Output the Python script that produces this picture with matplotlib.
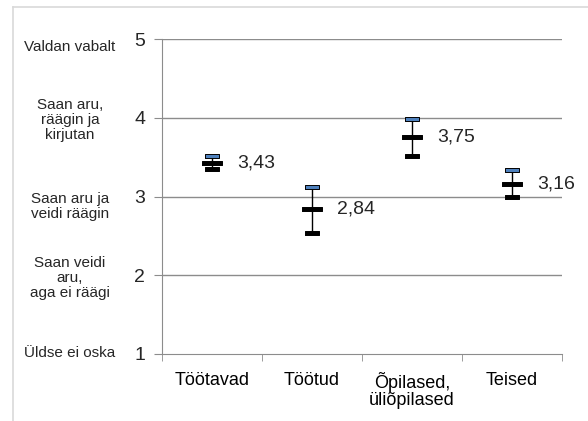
import matplotlib
matplotlib.use("Agg")
import matplotlib.pyplot as plt
from matplotlib.lines import Line2D
import numpy as np

plt.rcParams["font.family"] = ["Liberation Sans", "DejaVu Sans"]

categories = ["Töötavad", "Töötud", "Õpilased,\nüliõpilased", "Teised"]
means = [3.43, 2.84, 3.75, 3.16]
highs = [3.52, 3.12, 3.99, 3.34]
lows = [3.35, 2.54, 3.52, 3.00]
value_labels = ["3,43", "2,84", "3,75", "3,16"]

level_values = [1, 2, 3, 4, 5]
level_texts = ["Üldse ei oska", "Saan veidi\naru,\naga ei räägi",
               "Saan aru ja\nveidi räägin", "Saan aru,\nräägin ja\nkirjutan",
               "Valdan vabalt"]
level_text_y = [1.01, 1.97, 2.87, 3.97, 4.9]

W, H = 588, 421
fig = plt.figure(figsize=(W / 100, H / 100), dpi=100)
ax = fig.add_axes([162 / W, 1 - 354 / H, 400 / W, 315 / H])

x = np.arange(len(categories))
ax.set_xlim(-0.5, len(categories) - 0.5)
ax.set_ylim(1, 5)

# gridlines
for v in level_values[1:]:
    ax.axhline(v, color="#8c8c8c", lw=1, zorder=1)

# high-low lines and markers
ax.vlines(x, lows, highs, color="black", lw=1, zorder=2)
cap = [(-1, -0.22), (1, -0.22), (1, 0.22), (-1, 0.22), (-1, -0.22)]
mid = [(-1, -0.24), (1, -0.24), (1, 0.24), (-1, 0.24), (-1, -0.24)]
ax.plot(x, highs, ls="none", marker=cap, ms=10, mfc="#4F81BD", mec="black", mew=0.7, zorder=3)
ax.plot(x, lows, ls="none", marker=cap, ms=10, mfc="black", mec="black", mew=0.7, zorder=3)
ax.plot(x, means, ls="none", marker=mid, ms=14.5, mfc="black", mec="black", mew=0.7, zorder=4)

for xi, m, lab in zip(x, means, value_labels):
    ax.text(xi + 0.25, m, lab, fontsize=14, va="center", ha="left", color="#262626")

# axes styling
for s in ["top", "right"]:
    ax.spines[s].set_visible(False)
ax.spines["left"].set_color("#8c8c8c")
ax.spines["bottom"].set_color("#8c8c8c")

ax.set_yticks(level_values)
ax.set_yticklabels([str(v) for v in level_values], fontsize=14, color="#262626")
ax.tick_params(axis="y", length=6, color="#8c8c8c", pad=6)

ax.set_xticks(x)
ax.set_xticklabels(categories, fontsize=13, color="black", linespacing=1.0)
ax.tick_params(axis="x", which="major", length=0, pad=13)
ax.set_xticks(np.arange(len(categories) + 1) - 0.5, minor=True)
ax.tick_params(axis="x", which="minor", length=5, color="#8c8c8c")

# descriptive level labels on the left
trans = matplotlib.transforms.blended_transform_factory(fig.transFigure, ax.transData)
for yv, txt in zip(level_text_y, level_texts):
    ax.text(70 / W, yv, txt, transform=trans, ha="center", va="center",
            fontsize=11, linespacing=1.1, color="#262626", clip_on=False)

# chart frame (partly visible)
fig.add_artist(Line2D([13 / W, 13 / W], [0, 1 - 7 / H], color="#d9d9d9", lw=1.2))
fig.add_artist(Line2D([13 / W, 1], [1 - 7 / H, 1 - 7 / H], color="#d9d9d9", lw=1.2))

fig.savefig("out.png", dpi=100)
